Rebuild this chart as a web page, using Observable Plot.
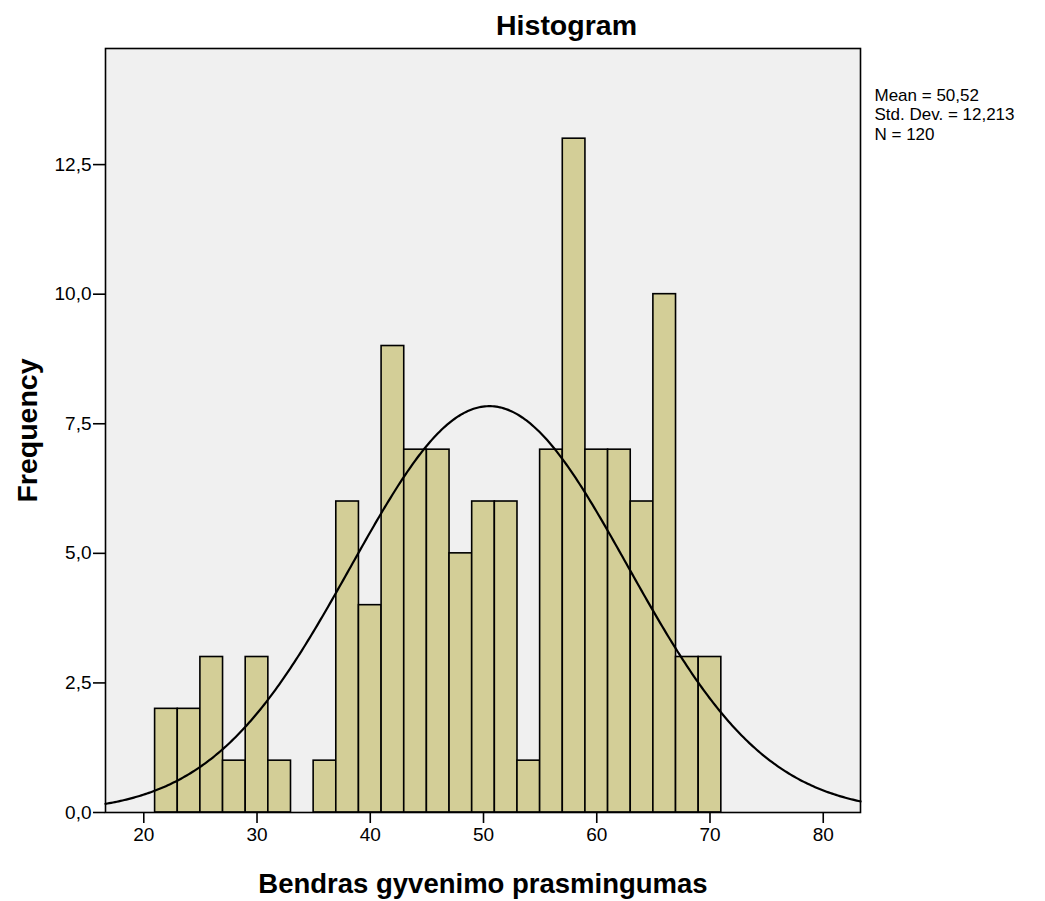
<!DOCTYPE html>
<html>
<head>
<meta charset="utf-8">
<script src="https://cdn.jsdelivr.net/npm/d3@7"></script>
<script src="https://cdn.jsdelivr.net/npm/@observablehq/plot@0.6"></script>
<style>
  html, body { margin: 0; padding: 0; background: #fff; }
  svg { font-family: "Liberation Sans", Arial, sans-serif; }
</style>
</head>
<body>
<div id="chart"></div>
<script>
// Histogram bins (lower edges, width 2) and frequencies
const binLower = [21, 23, 25, 27, 29, 31, 33, 35, 37, 39, 41, 43, 45, 47, 49, 51, 53, 55, 57, 59, 61, 63, 65, 67, 69];
const binWidth = 2;
const counts   = [2, 2, 3, 1, 3, 1, 0, 1, 6, 4, 9, 7, 7, 5, 6, 6, 1, 7, 13, 7, 7, 6, 10, 3, 3];

// Summary statistics
const mean = 50.52;
const stdDev = 12.213;
const n = 120;

// Axis ticks
const xTicks = [20, 30, 40, 50, 60, 70, 80];
const yTicks = [0, 2.5, 5, 7.5, 10, 12.5];

const xDomain = [16.62, 83.29];
const yDomain = [0, 14.74];

const bars = binLower.map((lo, i) => ({x1: lo, x2: lo + binWidth, y: counts[i]}));

// fitted normal curve scaled to counts
const curve = d3.range(0, 401).map(i => {
  const x = xDomain[0] + (xDomain[1] - xDomain[0]) * i / 400;
  const z = (x - mean) / stdDev;
  return {x, y: n * binWidth * Math.exp(-0.5 * z * z) / (stdDev * Math.sqrt(2 * Math.PI))};
});

const fmt = d => d.toFixed(1).replace(".", ",");
const statsLines = [
  `Mean = ${String(mean).replace(".", ",")}`,
  `Std. Dev. = ${String(stdDev).replace(".", ",")}`,
  `N = ${n}`
];

const statsStyle = {frameAnchor: "top-right", dx: 14, textAnchor: "start", lineAnchor: "top", fontSize: 17, letterSpacing: 0.45, fill: "#000"};

const chart = Plot.plot({
  width: 1045,
  height: 901,
  marginLeft: 105,
  marginRight: 185,
  marginTop: 48,
  marginBottom: 89,
  style: {fontFamily: "'Liberation Sans', Arial, sans-serif", background: "#fff"},
  x: {domain: xDomain},
  y: {domain: yDomain},
  marks: [
    Plot.frame({fill: "#f0f0f0"}),
    Plot.rectY(bars, {x1: "x1", x2: "x2", y: "y", fill: "#d3ce97", stroke: "#000", strokeWidth: 1.6}),
    Plot.line(curve, {x: "x", y: "y", stroke: "#000", strokeWidth: 2.2}),
    Plot.frame({stroke: "#000", strokeWidth: 1.6}),
    Plot.axisX({ticks: xTicks, tickSize: 11, tickPadding: 4, fontSize: 19, label: null, tickFormat: d => String(d), strokeWidth: 1.6, color: "#000"}),
    Plot.axisY({ticks: yTicks, tickSize: 12, tickPadding: 2, fontSize: 19, label: null, tickFormat: fmt, strokeWidth: 1.6, color: "#000"}),
    Plot.text(["Histogram"], {frameAnchor: "top-left", dx: 461, dy: -23, textAnchor: "middle", lineAnchor: "middle", fontSize: 28.5, fontWeight: "bold", fill: "#000"}),
    Plot.text([statsLines[0]], {...statsStyle, dy: 40}),
    Plot.text([statsLines[1]], {...statsStyle, dy: 59.5}),
    Plot.text([statsLines[2]], {...statsStyle, dy: 79}),
    Plot.text(["Frequency"], {frameAnchor: "left", dx: -78, rotate: -90, textAnchor: "middle", lineAnchor: "middle", fontSize: 28.5, fontWeight: "bold", fill: "#000"}),
    Plot.text(["Bendras gyvenimo prasmingumas"], {frameAnchor: "bottom", dy: 72, textAnchor: "middle", lineAnchor: "middle", fontSize: 27.5, fontWeight: "bold", fill: "#000"})
  ]
});

document.getElementById("chart").appendChild(chart);
</script>
</body>
</html>
